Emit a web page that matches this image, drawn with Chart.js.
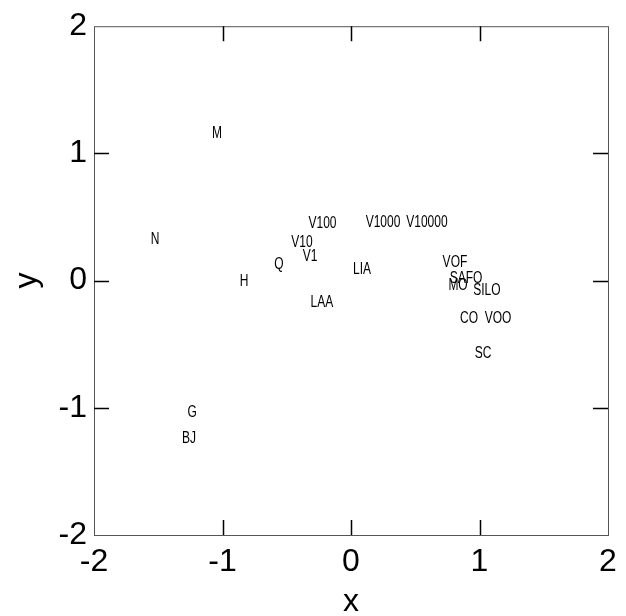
<!DOCTYPE html>
<html>
<head>
<meta charset="utf-8">
<script src="https://cdn.jsdelivr.net/npm/chart.js@4.4.0/dist/chart.umd.min.js"></script>
<style>
    body { margin: 0; background: #fff; }
    #wrap { width: 626px; height: 616px; }
</style>
</head>
<body>
<div id="wrap"><canvas id="chart" width="626" height="616"></canvas></div>
<script>
// point names and coordinates
const pointNames = ['M', 'N', 'H', 'Q', 'V100', 'V10', 'V1', 'LAA', 'LIA', 'V1000',
    'V10000', 'VOF', 'SAFO', 'MO', 'SILO', 'CO', 'VOO', 'SC', 'G', 'BJ'];
const xValues = [-1.043, -1.525, -0.833, -0.560, -0.222, -0.381, -0.319, -0.226, 0.086, 0.249,
    0.591, 0.809, 0.895, 0.833, 1.058, 0.918, 1.144, 1.027, -1.237, -1.261];
const yValues = [1.148, 0.313, -0.016, 0.117, 0.438, 0.289, 0.180, -0.180, 0.078, 0.445,
    0.445, 0.137, 0.008, -0.051, -0.086, -0.305, -0.305, -0.578, -1.047, -1.250];
const tickValues = [-2, -1, 0, 1, 2];

const FONT = 'Arial, "Liberation Sans", sans-serif';

// text labels drawn where the (invisible) points sit
const labelPlugin = {
    id: 'pointNames',
    afterDatasetsDraw(chart) {
        const ctx = chart.ctx;
        const meta = chart.getDatasetMeta(0);
        ctx.save();
        ctx.fillStyle = '#000';
        ctx.font = '16px ' + FONT;
        ctx.textAlign = 'center';
        ctx.textBaseline = 'middle';
        meta.data.forEach((pt, i) => {
            ctx.save();
            ctx.translate(pt.x, pt.y);
            ctx.scale(0.75, 1); // narrow lettering like the original
            ctx.fillText(pointNames[i], 0, -1);
            ctx.restore();
        });
        ctx.restore();
    }
};

// box round the plot and inward tick marks on all four sides
const framePlugin = {
    id: 'frame',
    afterDraw(chart) {
        const { ctx, chartArea: a, scales: { x, y } } = chart;
        ctx.save();
        ctx.strokeStyle = '#555';
        ctx.lineWidth = 1;
        ctx.strokeRect(a.left + 0.5, a.top + 0.5, a.right - a.left, a.bottom - a.top);

        ctx.strokeStyle = '#000';
        ctx.lineWidth = 1.5;
        ctx.beginPath();
        tickValues.slice(1, -1).forEach(v => {
            const px = Math.round(x.getPixelForValue(v)) + 0.5;
            ctx.moveTo(px, a.bottom); ctx.lineTo(px, a.bottom - 15);
            ctx.moveTo(px, a.top); ctx.lineTo(px, a.top + 15);
            const py = Math.round(y.getPixelForValue(v)) + 0.5;
            ctx.moveTo(a.left, py); ctx.lineTo(a.left + 15, py);
            ctx.moveTo(a.right, py); ctx.lineTo(a.right - 15, py);
        });
        ctx.stroke();
        ctx.restore();
    }
};

const axisCommon = {
    type: 'linear',
    min: -2,
    max: 2,
    afterBuildTicks: (s) => { s.ticks = tickValues.map(v => ({ value: v })); },
    grid: { display: false, drawTicks: false },
    border: { display: false },
    ticks: { color: '#000', font: { family: FONT, size: 32 } }
};

new Chart(document.getElementById('chart'), {
    type: 'scatter',
    data: {
        datasets: [{
            data: xValues.map((v, i) => ({ x: v, y: yValues[i] })),
            pointRadius: 0,
            pointHoverRadius: 0
        }]
    },
    options: {
        responsive: false,
        animation: false,
        layout: { padding: { top: 23, right: 18, left: 0, bottom: 0 } },
        plugins: { legend: { display: false }, tooltip: { enabled: false } },
        scales: {
            x: {
                ...axisCommon,
                ticks: { ...axisCommon.ticks, padding: 8 },
                title: { display: true, text: 'x', color: '#000',
                    font: { family: FONT, size: 32, lineHeight: 0.85 }, padding: { top: 0, bottom: 0 } },
                afterFit: (s) => { s.height = 81; }
            },
            y: {
                ...axisCommon,
                ticks: { ...axisCommon.ticks, padding: 7 },
                title: { display: true, text: 'y', color: '#000',
                    font: { family: FONT, size: 32, lineHeight: 1 }, padding: { top: 11, bottom: 0 } },
                afterFit: (s) => { s.width = 94; }
            }
        }
    },
    plugins: [labelPlugin, framePlugin]
});
</script>
</body>
</html>
